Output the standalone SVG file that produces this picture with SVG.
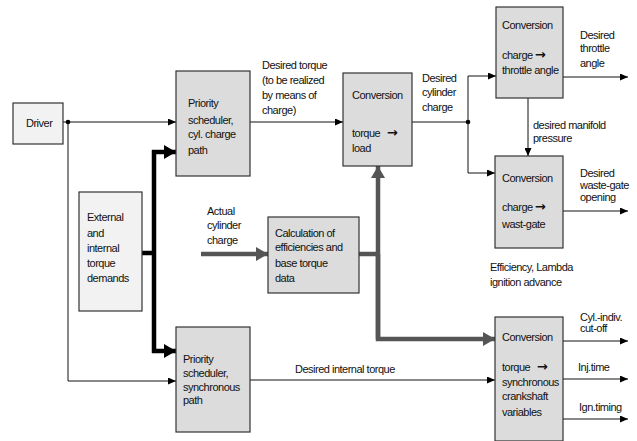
<svg xmlns="http://www.w3.org/2000/svg" width="637" height="441" viewBox="0 0 637 441">
<defs>
<style>
text{font-family:"Liberation Sans",Arial,sans-serif;font-size:11px;letter-spacing:-0.5px;fill:#111}
.arr{font-family:"DejaVu Sans",sans-serif;font-size:13px;font-weight:bold;letter-spacing:0}
.box{stroke:#333;stroke-width:1.2}
.light{fill:#f2f2f2}
.dark{fill:#dcdcdc}
.thin{fill:none;stroke:#111;stroke-width:1}
.thick{fill:none;stroke:#000;stroke-width:4.5}
.gray{fill:none;stroke:#555;stroke-width:4.5}
</style>
<marker id="a" markerUnits="userSpaceOnUse" markerWidth="8" markerHeight="7" refX="8" refY="3.5" orient="auto"><path d="M0,0 L8,3.5 L0,7 z" fill="#000"/></marker>
<marker id="ab" markerUnits="userSpaceOnUse" markerWidth="12" markerHeight="14" refX="12" refY="7" orient="auto"><path d="M0,0 L12,7 L0,14 z" fill="#000"/></marker>
<marker id="ag" markerUnits="userSpaceOnUse" markerWidth="12" markerHeight="14" refX="12" refY="7" orient="auto"><path d="M0,0 L12,7 L0,14 z" fill="#555"/></marker>
</defs>
<rect width="637" height="441" fill="#fff"/>

<g id="connectors">
<line class="thin" x1="63" y1="122" x2="176" y2="122" marker-end="url(#a)"/>
<polyline class="thin" points="68,122 68,381 176,381" marker-end="url(#a)"/>
<circle cx="68" cy="122" r="2.3" fill="#000"/>
<line class="thick" x1="142" y1="253" x2="156" y2="253"/>
<line class="thick" x1="154" y1="150" x2="154" y2="353"/>
<line class="thick" x1="152" y1="152" x2="176" y2="152" marker-end="url(#ab)"/>
<line class="thick" x1="152" y1="351" x2="176" y2="351" marker-end="url(#ab)"/>
<line class="thin" x1="250" y1="122" x2="343" y2="122" marker-end="url(#a)"/>
<line class="thin" x1="412" y1="122" x2="468" y2="122"/>
<circle cx="468" cy="122" r="2.3" fill="#000"/>
<polyline class="thin" points="468,122 468,76 496,76" marker-end="url(#a)"/>
<polyline class="thin" points="468,122 468,173 495,173" marker-end="url(#a)"/>
<line class="thin" x1="563" y1="77" x2="628" y2="77" marker-end="url(#a)"/>
<line class="thin" x1="528" y1="98" x2="528" y2="156" marker-end="url(#a)"/>
<line class="thin" x1="563" y1="211" x2="628" y2="211" marker-end="url(#a)"/>
<line class="gray" x1="201" y1="254" x2="268" y2="254" marker-end="url(#ag)"/>
<line class="gray" x1="359" y1="254" x2="378" y2="254"/>
<polyline class="gray" points="378,339 378,166" marker-end="url(#ag)"/>
<polyline class="gray" points="378,254 378,339 495,339" marker-end="url(#ag)"/>
<line class="thin" x1="250" y1="380" x2="495" y2="380" marker-end="url(#a)"/>
<line class="thin" x1="563" y1="341" x2="628" y2="341" marker-end="url(#a)"/>
<line class="thin" x1="563" y1="379" x2="628" y2="379" marker-end="url(#a)"/>
<line class="thin" x1="563" y1="419" x2="628" y2="419" marker-end="url(#a)"/>
</g>

<g id="labels">
<text x="262" y="69">Desired torque</text>
<text x="262" y="84">(to be realized</text>
<text x="262" y="99">by means of</text>
<text x="262" y="114">charge)</text>
<text x="422" y="82">Desired</text>
<text x="422" y="96">cylinder</text>
<text x="422" y="111">charge</text>
<text x="580" y="39">Desired</text>
<text x="580" y="52">throttle</text>
<text x="580" y="67">angle</text>
<text x="533" y="129">desired manifold</text>
<text x="533" y="142">pressure</text>
<text x="580" y="177">Desired</text>
<text x="580" y="189">waste-gate</text>
<text x="580" y="201">opening</text>
<text x="490" y="271">Efficiency, Lambda</text>
<text x="490" y="286">ignition advance</text>
<text x="207" y="215">Actual</text>
<text x="207" y="229">cylinder</text>
<text x="207" y="244">charge</text>
<text x="295" y="373">Desired internal torque</text>
<text x="580" y="321">Cyl.-indiv.</text>
<text x="580" y="332">cut-off</text>
<text x="578" y="371">Inj.time</text>
<text x="579" y="411">Ign.timing</text>
</g>

<g id="driver">
<rect class="box light" x="13" y="103" width="50" height="41"/>
<text x="26" y="127">Driver</text>
</g>
<g id="external">
<rect class="box light" x="79" y="192" width="63" height="119"/>
<text x="87" y="221">External</text>
<text x="87" y="237">and</text>
<text x="87" y="252">internal</text>
<text x="87" y="267">torque</text>
<text x="87" y="282">demands</text>
</g>
<g id="priority-charge">
<rect class="box dark" x="176" y="71" width="74" height="105"/>
<text x="188" y="107">Priority</text>
<text x="188" y="124">scheduler,</text>
<text x="188" y="138">cyl. charge</text>
<text x="188" y="154">path</text>
</g>
<g id="priority-sync">
<rect class="box dark" x="176" y="327" width="74" height="105"/>
<text x="183" y="363">Priority</text>
<text x="183" y="377">scheduler,</text>
<text x="183" y="391">synchronous</text>
<text x="183" y="404">path</text>
</g>
<g id="conv-load">
<rect class="box dark" x="343" y="73" width="69" height="93"/>
<text x="352" y="99">Conversion</text>
<text x="352" y="137">torque <tspan class="arr" dx="4">→</tspan></text>
<text x="352" y="152">load</text>
</g>
<g id="conv-throttle">
<rect class="box dark" x="496" y="7" width="67" height="91"/>
<text x="502" y="29">Conversion</text>
<text x="502" y="59">charge<tspan class="arr" dx="2">→</tspan></text>
<text x="502" y="74">throttle angle</text>
</g>
<g id="conv-wastegate">
<rect class="box dark" x="495" y="156" width="68" height="92"/>
<text x="502" y="182">Conversion</text>
<text x="502" y="211">charge<tspan class="arr" dx="2">→</tspan></text>
<text x="502" y="228">wast-gate</text>
</g>
<g id="calc">
<rect class="box dark" x="268" y="217" width="91" height="76"/>
<text x="275" y="237">Calculation of</text>
<text x="275" y="251">efficiencies and</text>
<text x="275" y="267">base torque</text>
<text x="275" y="282">data</text>
</g>
<g id="conv-crank">
<rect class="box dark" x="495" y="317" width="68" height="124"/>
<text x="502" y="341">Conversion</text>
<text x="502" y="371">torque <tspan class="arr" dx="4">→</tspan></text>
<text x="502" y="386">synchronous</text>
<text x="502" y="400">crankshaft</text>
<text x="502" y="416">variables</text>
</g>
</svg>
